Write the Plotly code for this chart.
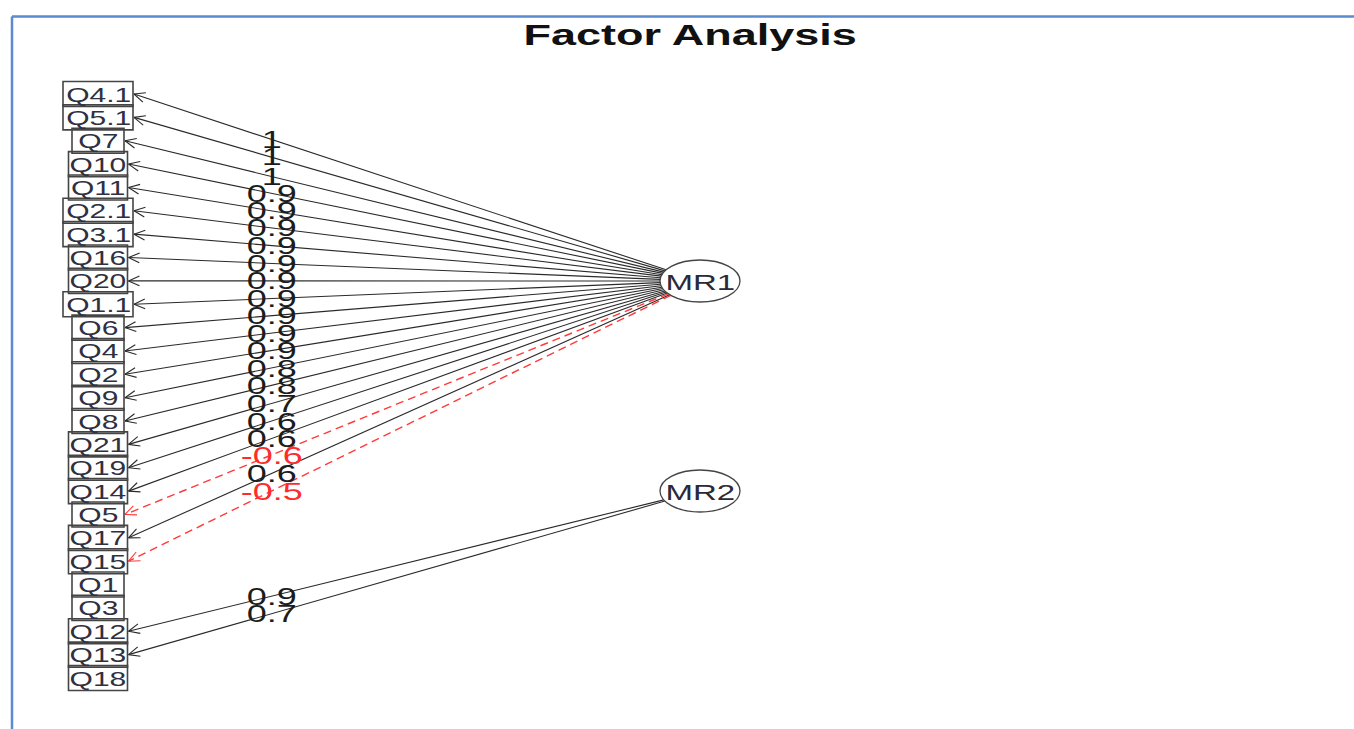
import math
import plotly.graph_objects as go

# ---- data -------------------------------------------------------------
variables = ["Q4.1", "Q5.1", "Q7", "Q10", "Q11", "Q2.1", "Q3.1", "Q16", "Q20",
             "Q1.1", "Q6", "Q4", "Q2", "Q9", "Q8", "Q21", "Q19", "Q14", "Q5",
             "Q17", "Q15", "Q1", "Q3", "Q12", "Q13", "Q18"]

factors = ["MR1", "MR2"]

mr1_items = ["Q4.1", "Q5.1", "Q7", "Q10", "Q11", "Q2.1", "Q3.1", "Q16", "Q20",
             "Q1.1", "Q6", "Q4", "Q2", "Q9", "Q8", "Q21", "Q19", "Q14", "Q5",
             "Q17", "Q15"]
mr1_loadings = [1, 1, 1, 0.9, 0.9, 0.9, 0.9, 0.9, 0.9,
                0.9, 0.9, 0.9, 0.9, 0.8, 0.8, 0.7, 0.6, 0.6, -0.6,
                0.6, -0.5]

mr2_items = ["Q12", "Q13"]
mr2_loadings = [0.9, 0.7]

title = "Factor Analysis"

# ---- layout constants (pixel space) -----------------------------------
W, H = 1354, 729
VAR_X = 98
VAR_TOP, VAR_STEP = 94, 23.36
BOX_H = 25
FACTOR_X = 700
FACTOR_Y = {"MR1": 281, "MR2": 491}
ELL_RX, ELL_RY = 40, 21
LABEL_X = 271
HEAD_LEN, HEAD_ANG = 12, math.radians(24)
FONT = "Liberation Sans"
POS_COL, NEG_COL = "#1c1c1c", "#ff2b2b"


def box_half(label):
    return {2: 26, 3: 29.5, 4: 35}[len(label)]


def var_y(label):
    return VAR_TOP + variables.index(label) * VAR_STEP


def ellipse_edge(fx, fy, tx, ty):
    dx, dy = tx - fx, ty - fy
    t = 1.0 / math.sqrt((dx / ELL_RX) ** 2 + (dy / ELL_RY) ** 2)
    return fx + dx * t, fy + dy * t


fig = go.Figure()
annotations = []
shapes = []

# collect path geometry by sign
seg = {True: ([], []), False: ([], [])}
head = {True: ([], []), False: ([], [])}

paths = [("MR1", it, v) for it, v in zip(mr1_items, mr1_loadings)] + \
        [("MR2", it, v) for it, v in zip(mr2_items, mr2_loadings)]

for fac, item, val in paths:
    pos = val >= 0
    ty = var_y(item)
    tx = VAR_X + box_half(item) + 1
    fx, fy = FACTOR_X, FACTOR_Y[fac]
    sx, sy = ellipse_edge(fx, fy, tx, ty)
    xs, ys = seg[pos]
    xs += [sx, tx, None]
    ys += [sy, ty, None]
    # open arrow head at the variable box
    ux, uy = sx - tx, sy - ty
    n = math.hypot(ux, uy)
    ux, uy = ux / n, uy / n
    hx, hy = head[pos]
    for a in (HEAD_ANG, -HEAD_ANG):
        rx = ux * math.cos(a) - uy * math.sin(a)
        ry = ux * math.sin(a) + uy * math.cos(a)
        hx += [tx + rx * HEAD_LEN, tx, None]
        hy += [ty + ry * HEAD_LEN, ty, None]
    # loading label placed on the path
    f = (LABEL_X - tx) / (sx - tx)
    ly = ty + f * (sy - ty)
    annotations.append(dict(
        x=LABEL_X, y=ly, text=f"{val:g}", showarrow=False,
        font=dict(family=FONT, size=24, color=POS_COL if pos else NEG_COL),
        xanchor="center", yanchor="middle"))

for pos in (True, False):
    xs, ys = seg[pos]
    if xs:
        fig.add_trace(go.Scatter(
            x=xs, y=ys, mode="lines", hoverinfo="skip",
            line=dict(color="#2a2a2a" if pos else "#ff3a3a",
                      width=1.1 if pos else 1.4,
                      dash="solid" if pos else "8px,5px")))
    hx, hy = head[pos]
    if hx:
        fig.add_trace(go.Scatter(
            x=hx, y=hy, mode="lines", hoverinfo="skip",
            line=dict(color="#2a2a2a" if pos else "#ff3a3a", width=1.1)))

# variable boxes
for lab in variables:
    y = var_y(lab)
    hw = box_half(lab)
    shapes.append(dict(type="rect", xref="x", yref="y",
                       x0=VAR_X - hw, x1=VAR_X + hw,
                       y0=y - BOX_H / 2, y1=y + BOX_H / 2,
                       line=dict(color="#454545", width=1.6)))
    annotations.append(dict(x=VAR_X, y=y + 0.5, text=lab, showarrow=False,
                            font=dict(family=FONT, size=20, color="#303040"),
                            xanchor="center", yanchor="middle"))

# factor ellipses
for fac in factors:
    fy = FACTOR_Y[fac]
    shapes.append(dict(type="circle", xref="x", yref="y",
                       x0=FACTOR_X - ELL_RX, x1=FACTOR_X + ELL_RX,
                       y0=fy - ELL_RY, y1=fy + ELL_RY,
                       line=dict(color="#444444", width=1.3)))
    annotations.append(dict(x=FACTOR_X, y=fy + 1, text=fac, showarrow=False,
                            font=dict(family=FONT, size=22, color="#2a2a3a"),
                            xanchor="center", yanchor="middle"))

# title
annotations.append(dict(x=690, y=34, text=f"<b>{title}</b>", showarrow=False,
                        font=dict(family=FONT, size=30, color="#111111"),
                        xanchor="center", yanchor="middle"))

# frame around the figure
shapes.append(dict(type="line", xref="x", yref="y", x0=12, x1=W + 5,
                   y0=16.5, y1=16.5, line=dict(color="#5a8ad0", width=2.5)))
shapes.append(dict(type="line", xref="x", yref="y", x0=12, x1=12,
                   y0=16.5, y1=H + 5, line=dict(color="#5a8ad0", width=2.5)))

fig.update_layout(
    width=W, height=H,
    margin=dict(l=0, r=0, t=0, b=0),
    paper_bgcolor="white", plot_bgcolor="white",
    showlegend=False,
    xaxis=dict(range=[0, W], visible=False, fixedrange=True),
    yaxis=dict(range=[H, 0], visible=False, fixedrange=True),
    shapes=shapes, annotations=annotations,
)

# R's device output is horizontally stretched; widen glyphs to match
post = """
var gd = document.getElementById('{plot_id}');
function stretchText(){
  gd.querySelectorAll('text.annotation-text').forEach(function(t){
    t.style.transformBox = 'fill-box';
    t.style.transformOrigin = 'center';
    t.style.transform = 'scaleX(1.5)';
  });
}
stretchText();
gd.on('plotly_afterplot', stretchText);
"""

fig.write_html("out.html", config={"displayModeBar": False}, post_script=post)
